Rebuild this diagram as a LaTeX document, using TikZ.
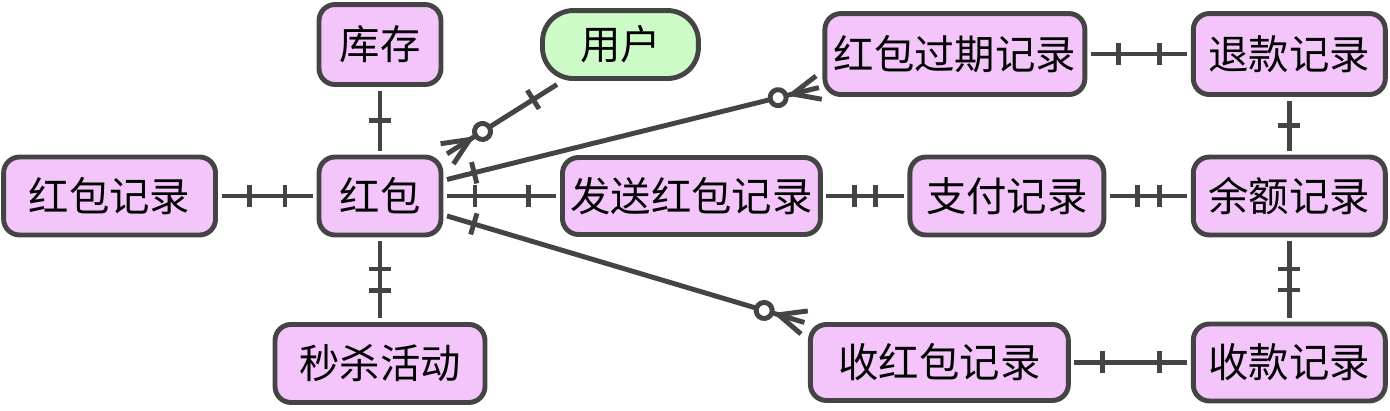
\documentclass[tikz,border=0pt]{standalone}
\usepackage{fontspec}
\newfontfamily\cjk{Noto Sans CJK SC}
\usepackage{tikz}
\usetikzlibrary{positioning,decorations.markings}
\usepackage{xcolor}
\definecolor{edgegray}{HTML}{444444}
\definecolor{entpink}{HTML}{F3C5FA}
\definecolor{usergreen}{HTML}{CCFBC8}
\tikzset{
  box/.style={rounded corners=0.32cm, draw=edgegray, line width=2.8pt, fill=entpink, align=center, minimum height=1.56cm, inner sep=0pt, outer sep=0.12cm, font=\cjk\fontsize{23}{26}\selectfont},
  userbox/.style={box, fill=usergreen, rounded corners=0.62cm},
  link/.style={line width=2.8pt, draw=edgegray},
  bar at/.style={postaction={decorate, decoration={markings, mark=at position #1 with {\draw[link] (0,-0.22cm) -- (0,0.22cm);}}}},
  oneone/.style={bar at=0.56cm, bar at=-0.56cm},
  many at end/.style={postaction={decorate, decoration={markings, mark=at position -0.54cm with {
    \draw[link] (0,0) -- (0.54cm,0.24cm) (0,0) -- (0.54cm,-0.24cm);
    \draw[link, fill=white] (-0.3cm,0) circle (0.16cm);}}}},
  many at start/.style={postaction={decorate, decoration={markings, mark=at position 0.54cm with {
    \draw[link] (0,0) -- (-0.54cm,0.24cm) (0,0) -- (-0.54cm,-0.24cm);
    \draw[link, fill=white] (0.3cm,0) circle (0.16cm);}}}}
}

\begin{document}
\begin{tikzpicture}[x=0.02cm, y=-0.02cm]
  \useasboundingbox (0,0) rectangle (1390,410);
  % red packet and its neighbours
  \node[box, minimum width=2.44cm] (hb) at (380,196) {红包};
  \node[box, left=1.83cm of hb, minimum width=4.24cm] (rec) {红包记录};
  \node[box, above=1.21cm of hb, minimum width=2.44cm, minimum height=1.6cm] (stock) {库存};
  \node[box, below=1.55cm of hb, minimum width=4.2cm] (seckill) {秒杀活动};
  \node[userbox, right=1.79cm of stock, minimum width=3.12cm, minimum height=1.36cm] (user) {用户};
  \node[box, right=2.19cm of hb, minimum width=5.16cm, minimum height=1.54cm] (send) {发送红包记录};
  % payment side
  \node[box, right=1.55cm of send, minimum width=3.88cm] (pay) {支付记录};
  \node[box, right=1.55cm of pay, minimum width=3.84cm] (bal) {余额记录};
  \node[box, above=1.01cm of bal, minimum width=3.84cm, minimum height=1.62cm] (refund) {退款记录};
  \node[box, below=1.54cm of bal, minimum width=3.84cm, minimum height=1.54cm] (income) {收款记录};
  \node[box, left=1.93cm of refund, minimum width=5.2cm, minimum height=1.62cm] (expire) {红包过期记录};
  \node[box, left=2.26cm of income, minimum width=5.16cm, minimum height=1.52cm] (recv) {收红包记录};

  \draw[link, oneone] (rec) -- (hb);
  \draw[link, bar at=0.5] (stock) -- (hb);
  \draw[link, oneone] (hb) -- (seckill);
  \draw[link, oneone] (hb) -- (send);
  \draw[link, many at start, bar at=-0.56cm] (hb) -- (user);
  \draw[link, bar at=0.56cm, many at end] (hb) -- (expire);
  \draw[link, bar at=0.56cm, many at end] (hb) -- (recv);
  \draw[link, oneone] (send) -- (pay);
  \draw[link, oneone] (pay) -- (bal);
  \draw[link, oneone] (expire) -- (refund);
  \draw[link, bar at=0.5] (refund) -- (bal);
  \draw[link, oneone] (bal) -- (income);
  \draw[link, oneone] (recv) -- (income);
\end{tikzpicture}
\end{document}
